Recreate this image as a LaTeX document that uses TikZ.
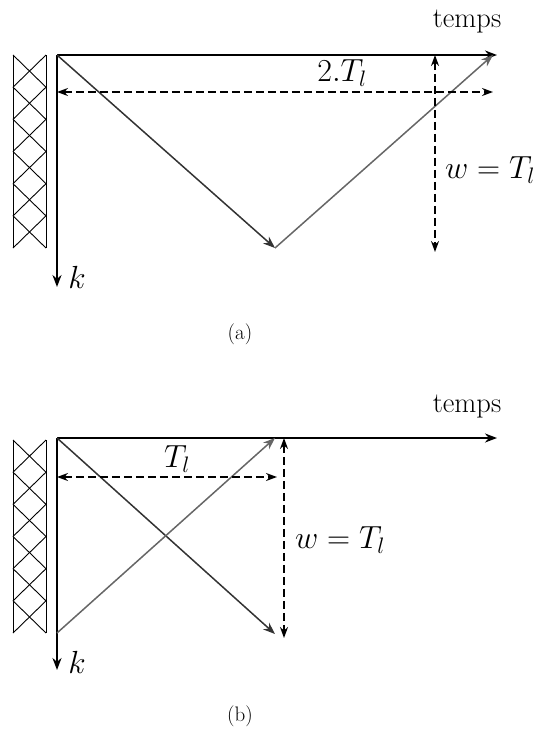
\RequirePackage{fix-cm}
\documentclass[tikz,border=0pt]{standalone}
\usetikzlibrary{arrows.meta}
\begin{document}
\begin{tikzpicture}[x=1pt,y=-1pt,
  axis/.style={line width=2.3pt,-{Stealth[length=12pt,width=9pt]}},
  ray/.style={line width=1.5pt,draw=black!80,-{Stealth[length=12pt,width=9pt]}},
  gray ray/.style={line width=1.5pt,draw=black!60,-{Stealth[length=12pt,width=9pt]}},
  dim/.style={line width=1.6pt,dash pattern=on 8pt off 4pt,{Stealth[length=11pt,width=8pt]}-{Stealth[length=11pt,width=8pt]}},
  lab/.style={font=\fontsize{28.5}{33}\selectfont},
  mlab/.style={font=\fontsize{32}{38}\selectfont,inner sep=1pt},
  captext/.style={font=\fontsize{21}{25}\selectfont},
  wall/.style={line width=0.9pt}]
\useasboundingbox (0,0) rectangle (538,736);

% ---------- panel (a) ----------
\draw[wall] (13,55) -- (13,248) (46,55) -- (46,248);
\foreach \i in {0,...,5}{
  \pgfmathsetmacro{\ya}{55+\i*32.17}
  \pgfmathsetmacro{\yb}{55+(\i+1)*32.17}
  \draw[wall] (13,\ya) -- (46,\yb);
  \draw[wall] (46,\ya) -- (13,\yb);
}
\coordinate (Oa) at (57,55);
\coordinate (Ka) at (57,287);
\coordinate (Ta) at (497,55);
\coordinate (Ba) at (275,248);
\coordinate (Ea) at (493,55);
\coordinate (L1a) at (57,92);
\coordinate (L2a) at (493,92);
\coordinate (V1a) at (435,55);
\coordinate (V2a) at (435,252);
\draw[axis] (Oa) -- (Ka);
\draw[axis] (Oa) -- (Ta);
\draw[ray] (Oa) -- (Ba);
\draw[gray ray] (Ba) -- (Ea);
\draw[dim] (L1a) -- (L2a);
\draw[dim] (V1a) -- (V2a);
\node[mlab] (ka) at (77,277) {$k$};
\node[lab] (tempsa) at (467,22) {temps};
\node[mlab] (twoTl) at (342,73) {$2.T_l$};
\node[mlab] (wa) at (490,170) {$w=T_l$};
\node[captext] (capa) at (240,334) {(a)};

% ---------- panel (b) ----------
\draw[wall] (13,440) -- (13,633) (46,440) -- (46,633);
\foreach \i in {0,...,5}{
  \pgfmathsetmacro{\ya}{440+\i*32.17}
  \pgfmathsetmacro{\yb}{440+(\i+1)*32.17}
  \draw[wall] (13,\ya) -- (46,\yb);
  \draw[wall] (46,\ya) -- (13,\yb);
}
\coordinate (Ob) at (57,438);
\coordinate (Kb) at (57,670);
\coordinate (Tb) at (497,438);
\coordinate (Bb) at (275,634);
\coordinate (Sb) at (57,633);
\coordinate (Eb) at (275,438);
\coordinate (L1b) at (57,477);
\coordinate (L2b) at (277,477);
\coordinate (V1b) at (284,438);
\coordinate (V2b) at (284,638);
\draw[axis] (Ob) -- (Kb);
\draw[axis] (Ob) -- (Tb);
\draw[ray] (Ob) -- (Bb);
\draw[gray ray] (Sb) -- (Eb);
\draw[dim] (L1b) -- (L2b);
\draw[dim] (V1b) -- (V2b);
\node[mlab] (kb) at (77,662) {$k$};
\node[lab] (tempsb) at (467,407) {temps};
\node[mlab] (Tlb) at (177,459) {$T_l$};
\node[mlab] (wb) at (340,540) {$w=T_l$};
\node[captext] (capb) at (240,716) {(b)};
\end{tikzpicture}
\end{document}
